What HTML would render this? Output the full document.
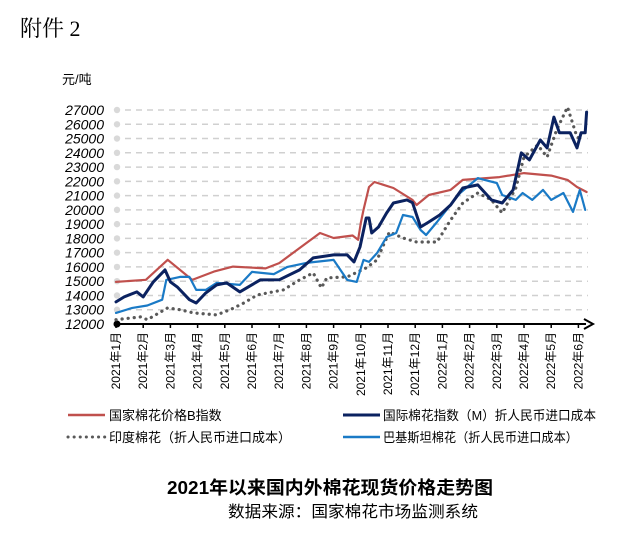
<!DOCTYPE html>
<html><head><meta charset="utf-8">
<style>
body{margin:0;background:#fff;width:632px;height:541px;overflow:hidden}
svg{display:block}
text{font-family:"Liberation Sans","Noto Sans CJK SC",sans-serif}
</style></head><body>
<svg id="chart" width="632" height="541" viewBox="0 0 632 541">
<text x="20" y="36" font-size="22" style="font-family:'Liberation Serif','Noto Serif CJK SC',serif">附件 2</text>
<text x="62" y="84" font-size="13">元/吨</text>
<g id="grid"></g><g id="yt"></g><g id="xt"></g><g id="series"></g>
<g font-size="13">
<line x1="68" y1="415" x2="105" y2="415" stroke="#c0504d" stroke-width="2.5"/>
<text x="109" y="420">国家棉花价格B指数</text>
<line x1="68" y1="437" x2="105" y2="437" stroke="#595959" stroke-width="3" stroke-dasharray="0.1 6" stroke-linecap="round"/>
<text x="109" y="442">印度棉花（折人民币进口成本）</text>
<line x1="343" y1="415" x2="380" y2="415" stroke="#0b2260" stroke-width="3"/>
<text x="383" y="420" textLength="213" lengthAdjust="spacingAndGlyphs">国际棉花指数（M）折人民币进口成本</text>
<line x1="343" y1="437" x2="380" y2="437" stroke="#1a7ac6" stroke-width="2.5"/>
<text x="383" y="442" textLength="195" lengthAdjust="spacingAndGlyphs">巴基斯坦棉花（折人民币进口成本）</text>
</g>
<text x="167" y="494" font-size="18" font-weight="bold" textLength="326" lengthAdjust="spacingAndGlyphs">2021年以来国内外棉花现货价格走势图</text>
<text x="228" y="517" font-size="16" textLength="250" lengthAdjust="spacingAndGlyphs">数据来源：国家棉花市场监测系统</text>
</svg>
<script>
const yTicks=[12000,13000,14000,15000,16000,17000,18000,19000,20000,21000,22000,23000,24000,25000,26000,27000];
const months=["2021年1月","2021年2月","2021年3月","2021年4月","2021年5月","2021年6月","2021年7月","2021年8月","2021年9月","2021年10月","2021年11月","2021年12月","2022年1月","2022年2月","2022年3月","2022年4月","2022年5月","2022年6月"];
const chinaT=[0,1.1,1.9,2.8,3.6,4.3,5.5,6,6.8,7.5,8,8.7,8.9,9,9.1,9.3,9.5,10.2,10.9,11.05,11.5,12.3,12.75,14.1,15,16,16.6,16.95,17.3];
const chinaV=[14950,15100,16500,15090,15670,16020,15900,16270,17400,18380,18030,18200,17900,19080,20000,21600,21950,21530,20700,20340,21040,21400,22100,22300,22580,22400,22100,21600,21250];
const intlT=[0,0.3,0.77,1,1.37,1.8,2,2.25,2.7,2.95,3.3,3.7,4.07,4.55,5.3,6,6.75,7.25,8,8.5,8.75,8.97,9.2,9.3,9.4,9.65,9.95,10.2,10.7,10.9,11.2,11.5,11.9,12.3,12.75,13.3,13.8,14.2,14.6,14.9,15.2,15.6,15.85,16.1,16.3,16.7,16.95,17.1,17.25,17.3];
const intlV=[13550,13900,14250,13900,14950,15790,14950,14600,13700,13470,14180,14740,14880,14250,15090,15100,15790,16630,16840,16840,16350,17400,19430,19430,18380,18800,19780,20480,20700,20500,18800,19150,19640,20340,21530,21750,20700,20480,21400,23990,23500,24900,24340,26500,25400,25400,24340,25400,25400,26850];
const indiaT=[0,0.9,1.15,1.9,2.35,2.85,3.7,4.2,4.7,5.2,6.15,6.75,7.25,7.55,7.75,8.5,9.2,9.6,9.8,10.05,10.55,11.05,11.8,12.3,12.75,13.3,13.8,14.2,14.7,15,15.5,15.85,16.2,16.6,16.95,17.2];
const indiaV=[12300,12500,12300,13130,13000,12780,12640,13000,13470,14040,14390,15090,15580,14530,15230,15300,15930,16490,17400,18450,18030,17750,17750,19290,20480,21180,20700,19780,21530,23700,24550,23700,25600,27200,25100,24900];
const pakT=[0,0.6,1.15,1.7,1.85,2.35,2.7,2.95,3.3,3.7,4.55,5,5.8,6.3,7,8,8.5,8.85,9.1,9.3,9.6,9.95,10.3,10.55,10.9,11.2,11.4,11.8,12.15,12.65,13.3,13.55,14,14.2,14.7,14.95,15.3,15.7,16,16.45,16.8,17.05,17.25];
const pakV=[12780,13130,13300,13700,15090,15300,15300,14390,14390,14880,14740,15650,15500,16000,16280,16490,15090,14950,16490,16350,16980,18100,18380,19640,19500,18590,18240,19150,20000,21180,22230,22100,21880,21040,20700,21180,20700,21400,20700,21180,19860,21400,20000];
const X0=116,DX=27.2,Y0=324,PY=214/15000;
const xs=t=>X0+t*DX, ys=v=>Y0-(v-12000)*PY;
const NS="http://www.w3.org/2000/svg";
function mk(tag,attrs,parent){const e=document.createElementNS(NS,tag);for(const k in attrs)e.setAttribute(k,attrs[k]);parent.appendChild(e);return e;}
const grid=document.getElementById('grid'),yt=document.getElementById('yt'),xt=document.getElementById('xt'),ser=document.getElementById('series');
yTicks.forEach(v=>{
  const y=ys(v);
  if(v>12000){const l=mk('line',{x1:125,y1:y,x2:588,y2:y,stroke:'#d0d0d0','stroke-width':1.5,'stroke-dasharray':'6 5'},grid);
  
  }
  const c=mk('circle',{cx:117,cy:y,r:3.2,fill:'#d9d9d9'},grid);
  
  
  const t=mk('text',{x:104,y:y+5,'font-size':14,'font-style':'italic','text-anchor':'end'},yt);
  t.textContent=v;
  
  
});
const ax=mk('line',{x1:117,y1:Y0,x2:586,y2:Y0,stroke:'#000','stroke-width':2},xt);


const ar=mk('path',{d:`M584 ${Y0-5} L593 ${Y0} L584 ${Y0+5}`,fill:'none',stroke:'#000','stroke-width':2},xt);


const dot=mk('circle',{cx:117,cy:Y0,r:3.5,fill:'#000'},xt);


months.forEach((m,i)=>{
  const x=xs(i);
  const tk=mk('line',{x1:x,y1:Y0,x2:x,y2:Y0+4,stroke:'#000','stroke-width':1.5},xt);
  
  
  const t=mk('text',{x:0,y:0,'font-size':12,'text-anchor':'end',transform:`translate(${x+4},${Y0+8}) rotate(-90)`},xt);
  t.textContent=m;
  
  
});
function line(T,V,stroke,w,name,dash){
  const d=T.map((t,i)=>(i?'L':'M')+xs(t).toFixed(1)+' '+ys(V[i]).toFixed(1)).join(' ');
  const a={d:d,fill:'none',stroke:stroke,'stroke-width':w,'stroke-linejoin':'round','stroke-linecap':'round'};
  if(dash)a['stroke-dasharray']=dash;
  const p=mk('path',a,ser);
  
  
}
line(indiaT,indiaV,'#595959',3.2,'india-series','0.1 6');
line(chinaT,chinaV,'#c0504d',2.2,'china-index-series');
line(pakT,pakV,'#1a7ac6',2.2,'pakistan-series');
line(intlT,intlV,'#0b2260',3,'intl-index-series');
</script>
</body></html>
